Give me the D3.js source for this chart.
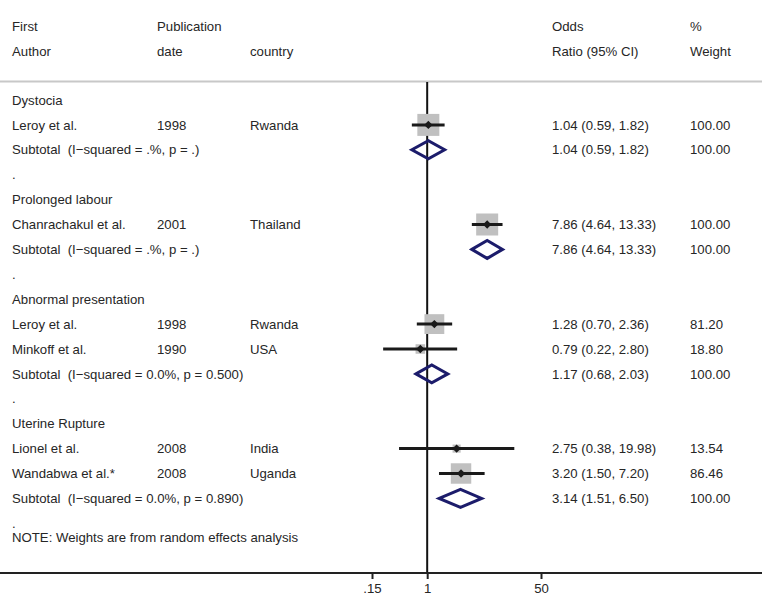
<!DOCTYPE html>
<html><head><meta charset="utf-8">
<script src="https://cdn.jsdelivr.net/npm/d3@7"></script>
<style>body{margin:0;background:#fff}svg{display:block}text{font-family:"Liberation Sans",Arial,sans-serif;font-size:13.2px;fill:#262626;white-space:pre}</style>
</head><body>
<script>
const rowTypes = ["group","study","subtotal","blank","group","study","subtotal","blank","group","study","study","subtotal","blank","group","study","study","subtotal","blank"];
const labels = ["Dystocia","Leroy et al.","Subtotal  (I\u2212squared = .%, p = .)",".","Prolonged labour","Chanrachakul et al.","Subtotal  (I\u2212squared = .%, p = .)",".","Abnormal presentation","Leroy et al.","Minkoff et al.","Subtotal  (I\u2212squared = 0.0%, p = 0.500)",".","Uterine Rupture","Lionel et al.","Wandabwa et al.*","Subtotal  (I\u2212squared = 0.0%, p = 0.890)","."];
const years = ["","1998","","","","2001","","","","1998","1990","","","","2008","2008","",""];
const countries = ["","Rwanda","","","","Thailand","","","","Rwanda","USA","","","","India","Uganda","",""];
const oddsRatio = [null,1.04,1.04,null,null,7.86,7.86,null,null,1.28,0.79,1.17,null,null,2.75,3.20,3.14,null];
const ciLow = [null,0.59,0.59,null,null,4.64,4.64,null,null,0.70,0.22,0.68,null,null,0.38,1.50,1.51,null];
const ciHigh = [null,1.82,1.82,null,null,13.33,13.33,null,null,2.36,2.80,2.03,null,null,19.98,7.20,6.50,null];
const weights = [null,100.00,100.00,null,null,100.00,100.00,null,null,81.20,18.80,100.00,null,null,13.54,86.46,100.00,null];
const axisTicks = [0.15, 1, 50];
const axisTickLabels = [".15","1","50"];
const headerLine1 = ["First","Publication","","Odds","%"];
const headerLine2 = ["Author","date","country","Ratio (95% CI)","Weight"];
const note = "NOTE: Weights are from random effects analysis";

const W = 762, H = 597;
const colX = [12, 157, 250, 552, 690];
const svg = d3.select("body").append("svg").attr("width", W).attr("height", H);

const x = d3.scaleLog().domain([0.15, 50]).range([372, 541]);
const y = d3.scaleLinear().domain([0, 17]).range([100, 523.3]);
const axisY = 573, topY = 82;
const f2 = d3.format(".2f");

// header
headerLine1.forEach((t,i)=>{ if(t) svg.append("text").attr("x",colX[i]).attr("y",26).attr("dy","0.35em").text(t); });
headerLine2.forEach((t,i)=>{ if(t) svg.append("text").attr("x",colX[i]).attr("y",51).attr("dy","0.35em").text(t); });
svg.append("line").attr("x1",0).attr("x2",W).attr("y1",81.5).attr("y2",81.5).attr("stroke","#c8c8c8").attr("stroke-width",2);

// null line
svg.append("line").attr("x1",x(1)).attr("x2",x(1)).attr("y1",topY).attr("y2",axisY).attr("stroke","#111").attr("stroke-width",2);

// rows
const rows = rowTypes.map((t,i)=>({t,i,label:labels[i],year:years[i],country:countries[i],or:oddsRatio[i],lo:ciLow[i],hi:ciHigh[i],w:weights[i]}));
const g = svg.append("g");
rows.forEach(r=>{
  const yy = y(r.i);
  g.append("text").attr("x",colX[0]).attr("y",yy).attr("dy","0.35em").text(r.label);
  if(r.year) g.append("text").attr("x",colX[1]).attr("y",yy).attr("dy","0.35em").text(r.year);
  if(r.country) g.append("text").attr("x",colX[2]).attr("y",yy).attr("dy","0.35em").text(r.country);
  if(r.or!=null){
    g.append("text").attr("x",colX[3]).attr("y",yy).attr("dy","0.35em").text(`${f2(r.or)} (${f2(r.lo)}, ${f2(r.hi)})`);
    g.append("text").attr("x",colX[4]).attr("y",yy).attr("dy","0.35em").text(f2(r.w));
  }
  if(r.t==="study"){
    const s = 22*Math.sqrt(r.w/100);
    g.append("rect").attr("x",x(r.or)-s/2).attr("y",yy-s/2).attr("width",s).attr("height",s).attr("fill","#c0c0c0");
    g.append("line").attr("x1",x(r.lo)).attr("x2",x(r.hi)).attr("y1",yy).attr("y2",yy).attr("stroke","#1a1a1a").attr("stroke-width",3);
    const d=4.2;
    g.append("path").attr("d",`M${x(r.or)-d},${yy}L${x(r.or)},${yy-d}L${x(r.or)+d},${yy}L${x(r.or)},${yy+d}Z`).attr("fill","#1a1a1a");
  } else if(r.t==="subtotal"){
    const h=9;
    g.append("path").attr("d",`M${x(r.lo)},${yy}L${x(r.or)},${yy-h}L${x(r.hi)},${yy}L${x(r.or)},${yy+h}Z`)
      .attr("fill","none").attr("stroke","#1c1c6b").attr("stroke-width",3).attr("stroke-linejoin","miter");
  }
});
svg.append("text").attr("x",colX[0]).attr("y",537).attr("dy","0.35em").text(note);

// axis
svg.append("line").attr("x1",0).attr("x2",W).attr("y1",axisY).attr("y2",axisY).attr("stroke","#222").attr("stroke-width",2);
const ax = svg.append("g").attr("transform",`translate(0,${axisY})`)
  .call(d3.axisBottom(x).tickValues(axisTicks).tickFormat((d,i)=>axisTickLabels[i]).tickSize(6).tickPadding(5));
ax.select(".domain").remove();
ax.selectAll(".tick line").attr("stroke","#222").attr("stroke-width",2);
ax.selectAll(".tick text").style("font-family","Liberation Sans, Arial, sans-serif").style("font-size","13.2px").attr("fill","#262626");
</script>
</body></html>
